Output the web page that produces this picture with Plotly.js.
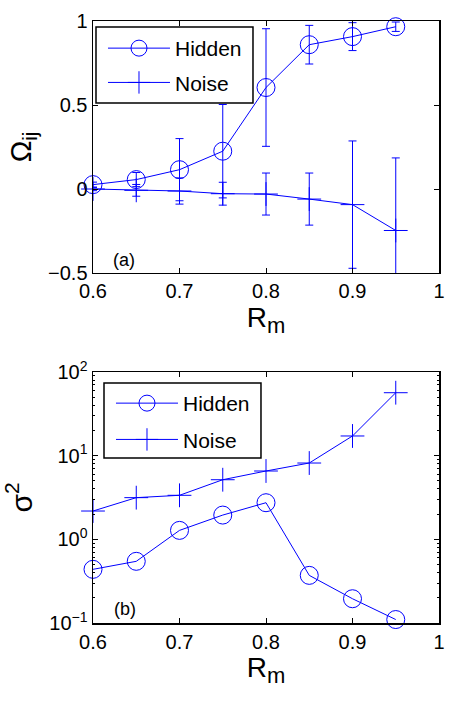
<!DOCTYPE html>
<html>
<head>
<meta charset="utf-8">
<script src="https://cdn.plot.ly/plotly-3.0.1.min.js"></script>
<style>
  html, body { margin: 0; padding: 0; background: #fff; }
  #chart { width: 467px; height: 703px; }
</style>
</head>
<body>
<div id="chart"></div>
<script>
// Mixing ratio R_m on the horizontal axis of both panels
const rm = [0.6, 0.65, 0.7, 0.75, 0.8, 0.85, 0.9, 0.95];

// Panel (a): overlap Omega_ij with its spread
const omegaHidden    = [0.026, 0.056, 0.115, 0.225, 0.604, 0.859, 0.907, 0.966];
const omegaHiddenErr = [0.015, 0.042, 0.185, 0.278, 0.350, 0.115, 0.083, 0.028];
const omegaNoise     = [0.000, -0.008, -0.012, -0.028, -0.030, -0.060, -0.093, -0.247];
const omegaNoiseErr  = [0.010, 0.035, 0.078, 0.068, 0.125, 0.155, 0.379, 0.432];

// Panel (b): variance sigma^2 (log scale)
const sigmaHidden = [0.438, 0.546, 1.28, 1.95, 2.74, 0.371, 0.195, 0.110];
const sigmaNoise  = [2.18, 3.15, 3.36, 5.16, 6.56, 8.17, 17.2, 56.6];

const seriesNames = ['Hidden', 'Noise'];
const xTicks = [0.6, 0.7, 0.8, 0.9, 1];
const xTickText = ['0.6', '0.7', '0.8', '0.9', '1'];
const omegaTicks = [-0.5, 0, 0.5, 1];
const omegaTickText = ['\u22120.5', '0', '0.5', '1'];
const sigmaTicks = [0.1, 1, 10, 100];
const sigmaTickText = ['10<sup>\u22121</sup>', '10<sup>0</sup>', '10<sup>1</sup>', '10<sup>2</sup>'];

const BLUE = '#0000ff';
const FONT = 'Liberation Sans, Arial, Helvetica, sans-serif';

// Visible line + marker series (markers may overhang the frame)
function series(name, y, symbol, xa, ya, legend) {
  return {
    type: 'scatter', mode: 'lines+markers', name: name,
    x: rm, y: y, xaxis: xa, yaxis: ya, legend: legend,
    legendgroup: legend + name,
    line: { color: BLUE, width: 1 },
    marker: {
      symbol: symbol, size: symbol === 'circle-open' ? 18 : 17,
      color: BLUE, line: { color: BLUE, width: 1 }
    },
    cliponaxis: false
  };
}

// Error bars alone, clipped to the frame
function errorBars(y, err) {
  return {
    type: 'scatter', mode: 'markers', x: rm, y: y, xaxis: 'x', yaxis: 'y',
    showlegend: false, hoverinfo: 'skip', cliponaxis: true,
    marker: { size: 1, opacity: 0, color: BLUE },
    error_y: { type: 'data', array: err, visible: true, color: BLUE, thickness: 1, width: 4 }
  };
}

const data = [
  errorBars(omegaHidden, omegaHiddenErr),
  errorBars(omegaNoise, omegaNoiseErr),
  series(seriesNames[0], omegaHidden, 'circle-open', 'x', 'y', 'legend'),
  series(seriesNames[1], omegaNoise, 'cross-thin-open', 'x', 'y', 'legend'),
  series(seriesNames[0], sigmaHidden, 'circle-open', 'x2', 'y2', 'legend2'),
  series(seriesNames[1], sigmaNoise, 'cross-thin-open', 'x2', 'y2', 'legend2')
];

const axisCommon = {
  showline: true, linecolor: '#000', linewidth: 1.5, mirror: 'ticks',
  ticks: 'inside', ticklen: 5, tickcolor: '#000', tickwidth: 1,
  showgrid: false, zeroline: false,
  tickfont: { family: FONT, size: 20, color: '#000' }
};

const xAxis = (anchor) => Object.assign({}, axisCommon, {
  anchor: anchor, range: [0.6, 1], tickmode: 'array',
  tickvals: xTicks, ticktext: xTickText,
  title: {
    text: 'R<sub><span style="font-size:22px">m</span></sub>',
    font: { family: FONT, size: 28, color: '#000' }, standoff: 4
  }
});

const legendCommon = {
  xanchor: 'left', yanchor: 'top',
  bgcolor: 'rgba(0,0,0,0)', borderwidth: 0,
  font: { family: FONT, size: 21, color: '#000' },
  itemwidth: 62
};

// Framed white boxes behind each legend
const boxStyle = { type: 'rect', xref: 'paper', yref: 'paper', layer: 'above',
  fillcolor: '#fff', line: { color: '#000', width: 1.5 } };

const layout = {
  width: 467, height: 703,
  margin: { l: 93, r: 28, t: 21, b: 80 },
  paper_bgcolor: '#fff', plot_bgcolor: '#fff',
  showlegend: true,
  xaxis: xAxis('y'),
  xaxis2: xAxis('y2'),
  yaxis: Object.assign({}, axisCommon, {
    domain: [0.5814, 1], anchor: 'x', range: [-0.5, 1],
    tickmode: 'array', tickvals: omegaTicks, ticktext: omegaTickText,
    title: { text: '\u03a9<sub>ij</sub>', font: { family: FONT, size: 29, color: '#000' }, standoff: 8 }
  }),
  yaxis2: Object.assign({}, axisCommon, {
    domain: [0, 0.4169], anchor: 'x2', type: 'log', range: [-1, 2],
    tickmode: 'array', tickvals: sigmaTicks, ticktext: sigmaTickText,
    minor: { ticks: 'inside', ticklen: 2, tickcolor: '#000', dtick: 'D1' },
    title: { text: '\u03c3<sup>2</sup>', font: { family: FONT, size: 30, color: '#000' }, standoff: 8 }
  }),
  legend: Object.assign({}, legendCommon, { x: 0.0289, y: 0.9884, tracegroupgap: 4 }),
  legend2: Object.assign({}, legendCommon, { x: 0.052, y: 0.3987, tracegroupgap: 6 }),
  shapes: [
    Object.assign({}, boxStyle, { x0: 0.00867, x1: 0.4624, y0: 0.86379, y1: 0.99003 }),
    Object.assign({}, boxStyle, { x0: 0.0318, x1: 0.4855, y0: 0.27409, y1: 0.39867 })
  ],
  annotations: [
    { text: '(a)', xref: 'x', yref: 'y', x: 0.621, y: -0.42, xanchor: 'left', yanchor: 'middle',
      showarrow: false, font: { family: FONT, size: 18, color: '#000' } },
    { text: '(b)', xref: 'x2', yref: 'y2', x: 0.622, y: Math.log10(0.145), xanchor: 'left', yanchor: 'middle',
      showarrow: false, font: { family: FONT, size: 18, color: '#000' } }
  ]
};

Plotly.newPlot('chart', data, layout, { displayModeBar: false, staticPlot: true });
</script>
</body>
</html>
